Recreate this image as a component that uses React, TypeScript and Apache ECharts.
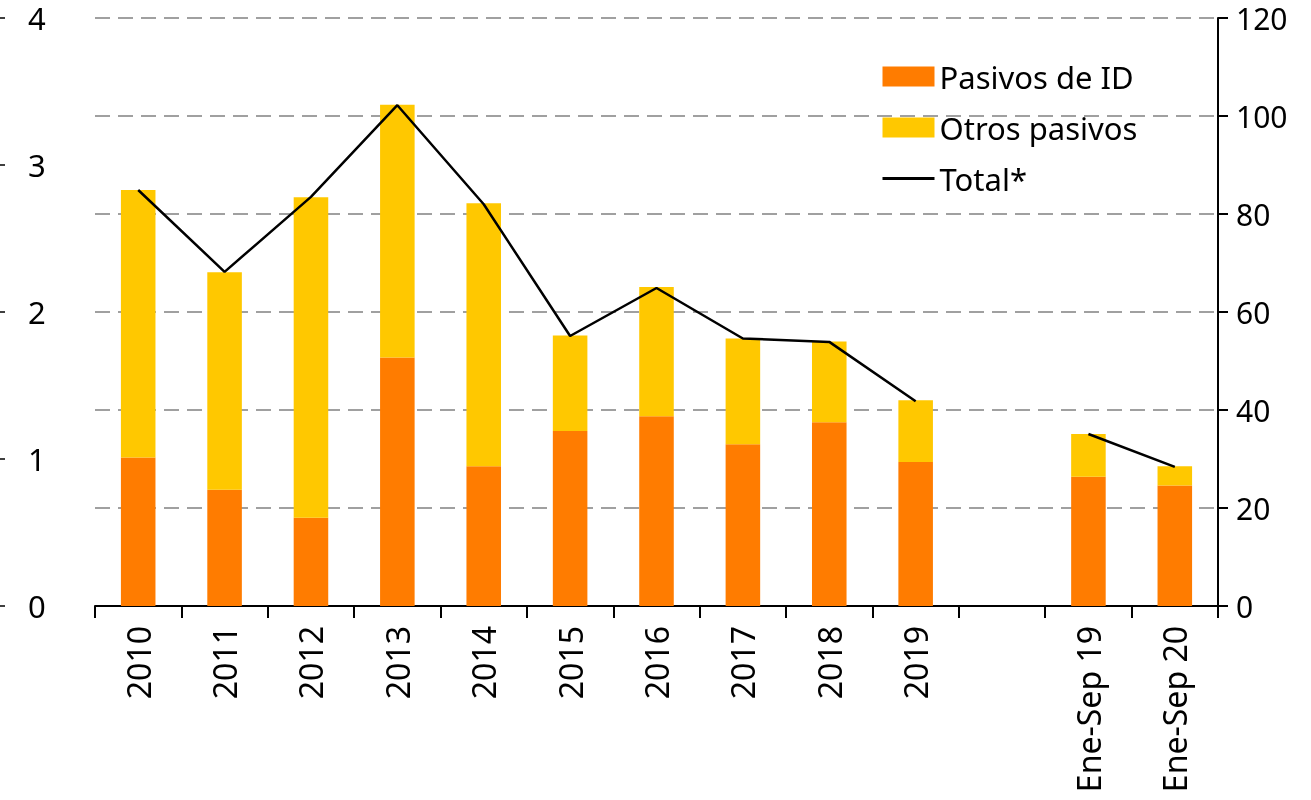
import React, { useEffect, useRef } from "react";
import * as echarts from "echarts";

const categories = ["2010", "2011", "2012", "2013", "2014", "2015", "2016", "2017", "2018", "2019", "", "Ene-Sep 19", "Ene-Sep 20"];
const pasivosID = [1.01, 0.79, 0.6, 1.69, 0.95, 1.19, 1.29, 1.1, 1.25, 0.98, null, 0.88, 0.82];
const otrosPasivos = [1.82, 1.48, 2.18, 1.72, 1.79, 0.65, 0.88, 0.72, 0.55, 0.42, null, 0.29, 0.13];
const total = [84.9, 68.2, 83.5, 102.2, 82.0, 55.1, 64.9, 54.6, 53.9, 41.8, null, 35.1, 28.4];
const leftTicks = [0, 1, 2, 3, 4];
const rightTicks = [0, 20, 40, 60, 80, 100, 120];

const FONT = "'Noto Sans', 'Open Sans', sans-serif";

export default function App() {
  const ref = useRef<HTMLDivElement>(null);
  useEffect(() => {
    if (!ref.current) return;
    const chart = echarts.init(ref.current, undefined, { renderer: "svg" });
    chart.setOption({
      animation: false,
      textStyle: { fontFamily: FONT, color: "#000" },
      grid: { left: 95, right: 93, top: 18, bottom: 194, containLabel: false },
      legend: {
        orient: "vertical",
        left: 876,
        top: 56,
        itemWidth: 52,
        itemHeight: 20,
        itemGap: 20,
        textStyle: { fontFamily: FONT, fontSize: 31, lineHeight: 30, color: "#000" },
        data: [
          { name: "Pasivos de ID", icon: "rect" },
          { name: "Otros pasivos", icon: "rect" },
          {
            name: "Total*",
            itemStyle: { color: "rgba(0,0,0,0)", opacity: 0, borderWidth: 0 },
            lineStyle: { color: "#000", width: 3 },
          },
        ],
      },
      xAxis: {
        type: "category",
        data: categories,
        boundaryGap: true,
        axisLine: { lineStyle: { color: "#000", width: 2 } },
        axisTick: { show: true, length: 12, lineStyle: { color: "#000", width: 2 } },
        axisLabel: {
          interval: 0,
          rotate: 90,
          margin: 20,
          fontSize: 32,
          color: "#000",
          fontFamily: FONT,
        },
      },
      yAxis: [
        {
          type: "value",
          position: "left",
          min: leftTicks[0],
          max: leftTicks[leftTicks.length - 1],
          interval: 1,
          offset: 97,
          axisLine: { show: false },
          axisTick: { show: true, inside: true, length: 7, lineStyle: { color: "#000", width: 1.5 } },
          axisLabel: {
            inside: true,
            margin: 30,
            fontSize: 31,
            lineHeight: 22,
            padding: [6, 0, 0, 0],
            color: "#000",
            fontFamily: FONT,
          },
          splitLine: { show: false },
        },
        {
          type: "value",
          position: "right",
          min: rightTicks[0],
          max: rightTicks[rightTicks.length - 1],
          interval: 20,
          axisLine: { show: true, lineStyle: { color: "#000", width: 2 } },
          axisTick: { show: true, length: 10, lineStyle: { color: "#000", width: 2 } },
          axisLabel: {
            margin: 18,
            fontSize: 30,
            lineHeight: 22,
            padding: [6, 0, 0, 0],
            color: "#000",
            fontFamily: FONT,
          },
          splitLine: { show: true, lineStyle: { color: "#a0a0a0", width: 2, type: [15, 8] } },
        },
      ],
      series: [
        {
          name: "Pasivos de ID",
          type: "bar",
          stack: "a",
          yAxisIndex: 0,
          barWidth: "40%",
          data: pasivosID,
          itemStyle: { color: "#FF7C00" },
        },
        {
          name: "Otros pasivos",
          type: "bar",
          stack: "a",
          yAxisIndex: 0,
          barWidth: "40%",
          data: otrosPasivos,
          itemStyle: { color: "#FFC800" },
        },
        {
          name: "Total*",
          type: "line",
          yAxisIndex: 1,
          data: total,
          symbol: "none",
          connectNulls: false,
          lineStyle: { color: "#000", width: 2.5 },
          itemStyle: { color: "#000" },
          z: 5,
        },
      ],
    });
    return () => chart.dispose();
  }, []);
  return <div ref={ref} style={{ position: "fixed", left: 0, top: 0, width: 1311, height: 800 }} />;
}
